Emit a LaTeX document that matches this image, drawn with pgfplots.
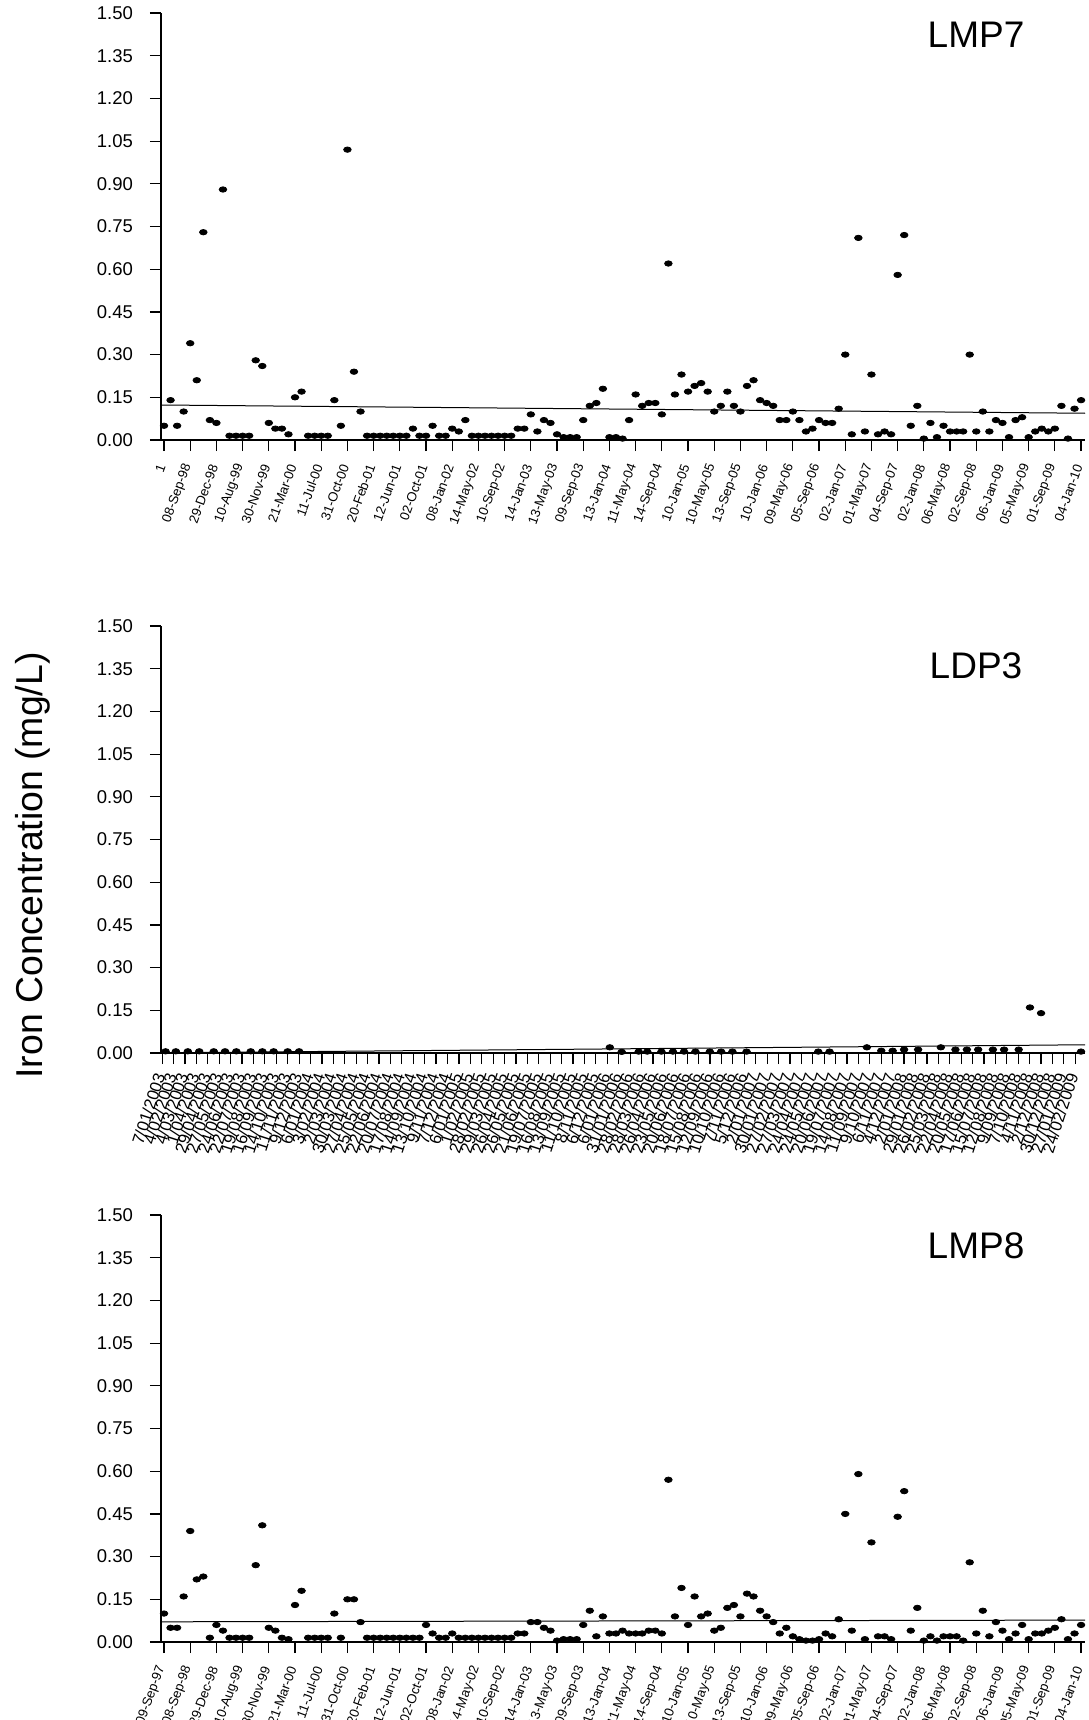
\documentclass[border=0pt]{standalone}
\usepackage{pgfplots}
\pgfplotsset{compat=1.18}
\usepackage{fontspec}
\setmainfont{Liberation Sans}
\pgfplotsset{
  panel/.style={
    scale only axis, width=462pt, height=213.5pt,
    axis x line=bottom, axis y line=left,
    axis line style={-, line width=0.6pt},
    every outer x axis line/.append style={-},
    every outer y axis line/.append style={-},
    ymin=0, ymax=1.5,
    ytick={0,0.15,0.3,0.45,0.6,0.75,0.9,1.05,1.2,1.35,1.5},
    scaled y ticks=false,
    yticklabel style={/pgf/number format/fixed, /pgf/number format/fixed zerofill,
      /pgf/number format/precision=2, /pgf/number format/assume math mode=true,
      font=\fontsize{9.25}{10}\selectfont, anchor=east, xshift=-5pt},
    tick align=outside, major tick length=5.5pt,
    tick style={line width=0.6pt, black},
    clip=false,
  },
  dots/.style={only marks, mark=*, mark size=1.35pt,
    mark options={xscale=1.4, fill=black, draw=black}},
  reg/.style={black, line width=0.5pt, no marks},
}
\begin{document}
\begin{tikzpicture}
\useasboundingbox (0,0) rectangle (544pt,-860pt);
% ---------------- LMP7
\begin{axis}[panel, at={(80.5pt,-220pt)}, anchor=south west,
  xmin=-0.46, xmax=140.6,
  xtick={0,4,...,140},
  xticklabels={1,08-Sep-98,29-Dec-98,10-Aug-99,30-Nov-99,21-Mar-00,11-Jul-00,31-Oct-00,20-Feb-01,12-Jun-01,02-Oct-01,08-Jan-02,14-May-02,10-Sep-02,14-Jan-03,13-May-03,09-Sep-03,13-Jan-04,11-May-04,14-Sep-04,10-Jan-05,10-May-05,13-Sep-05,10-Jan-06,09-May-06,05-Sep-06,02-Jan-07,01-May-07,04-Sep-07,02-Jan-08,06-May-08,02-Sep-08,06-Jan-09,05-May-09,01-Sep-09,04-Jan-10},
  xticklabel style={anchor=east, yshift=-3.5pt, rotate=70, font=\fontsize{6.6}{7.5}\selectfont},
]
\addplot[dots] coordinates {
(0,0.05)(1,0.14)(2,0.05)(3,0.10)(4,0.34)(5,0.21)(6,0.73)(7,0.07)(8,0.06)(9,0.88)
(10,0.015)(11,0.015)(12,0.015)(13,0.015)(14,0.28)(15,0.26)(16,0.06)(17,0.04)(18,0.04)(19,0.02)
(20,0.15)(21,0.17)(22,0.015)(23,0.015)(24,0.015)(25,0.015)(26,0.14)(27,0.05)(28,1.02)(29,0.24)
(30,0.10)(31,0.015)(32,0.015)(33,0.015)(34,0.015)(35,0.015)(36,0.015)(37,0.015)(38,0.04)(39,0.015)
(40,0.015)(41,0.05)(42,0.015)(43,0.015)(44,0.04)(45,0.03)(46,0.07)(47,0.015)(48,0.015)(49,0.015)
(50,0.015)(51,0.015)(52,0.015)(53,0.015)(54,0.04)(55,0.04)(56,0.09)(57,0.03)(58,0.07)(59,0.06)
(60,0.02)(61,0.01)(62,0.01)(63,0.01)(64,0.07)(65,0.12)(66,0.13)(67,0.18)(68,0.01)(69,0.01)
(70,0.005)(71,0.07)(72,0.16)(73,0.12)(74,0.13)(75,0.13)(76,0.09)(77,0.62)(78,0.16)(79,0.23)
(80,0.17)(81,0.19)(82,0.20)(83,0.17)(84,0.10)(85,0.12)(86,0.17)(87,0.12)(88,0.10)(89,0.19)
(90,0.21)(91,0.14)(92,0.13)(93,0.12)(94,0.07)(95,0.07)(96,0.10)(97,0.07)(98,0.03)(99,0.04)
(100,0.07)(101,0.06)(102,0.06)(103,0.11)(104,0.30)(105,0.02)(106,0.71)(107,0.03)(108,0.23)(109,0.02)
(110,0.03)(111,0.02)(112,0.58)(113,0.72)(114,0.05)(115,0.12)(116,0.005)(117,0.06)(118,0.01)(119,0.05)
(120,0.03)(121,0.03)(122,0.03)(123,0.30)(124,0.03)(125,0.10)(126,0.03)(127,0.07)(128,0.06)(129,0.01)
(130,0.07)(131,0.08)(132,0.01)(133,0.03)(134,0.04)(135,0.03)(136,0.04)(137,0.12)(138,0.005)(139,0.11)
(140,0.14)
};
\addplot[reg] coordinates {(-0.46,0.123)(140.6,0.094)};
\end{axis}
% ---------------- LDP3
\begin{axis}[panel, at={(80.5pt,-526.5pt)}, anchor=south west,
  xmin=-0.1, xmax=80.85,
  xtick={0,1,...,80},
  xticklabels={7/01/2003,4/02/2003,4/03/2003,1/04/2003,29/04/2003,27/05/2003,24/06/2003,22/07/2003,19/08/2003,16/09/2003,14/10/2003,11/11/2003,9/12/2003,6/01/2004,3/02/2004,2/03/2004,30/03/2004,27/04/2004,25/05/2004,22/06/2004,20/07/2004,17/08/2004,14/09/2004,13/10/2004,9/11/2004,7/12/2004,6/01/2005,1/02/2005,28/02/2005,29/03/2005,26/04/2005,26/05/2005,21/06/2005,19/07/2005,16/08/2005,13/09/2005,11/10/2005,8/11/2005,6/12/2005,6/01/2006,31/01/2006,28/02/2006,28/03/2006,26/04/2006,23/05/2006,20/06/2006,18/07/2006,15/08/2006,12/09/2006,10/10/2006,7/11/2006,5/12/2006,2/01/2007,30/01/2007,27/02/2007,27/03/2007,24/04/2007,24/05/2007,20/06/2007,19/07/2007,14/08/2007,11/09/2007,9/10/2007,6/11/2007,4/12/2007,2/01/2008,29/01/2008,26/02/2008,25/03/2008,22/04/2008,20/05/2008,17/06/2008,15/07/2008,12/08/2008,9/09/2008,7/10/2008,4/11/2008,2/12/2008,30/12/2008,27/01/2009,24/02/2009},
  xticklabel style={anchor=east, yshift=-1.5pt, rotate=72, font=\fontsize{8.3}{9}\selectfont},
]
\addplot[dots] coordinates {
(0.3,0.006)(1.2,0.006)(2.25,0.006)(3.25,0.006)(4.52,0.006)(5.51,0.006)(6.5,0.006)(7.76,0.006)(8.78,0.006)(9.77,0.006)(11.0,0.006)(12.0,0.006)
(39.22,0.02)(40.26,0.004)(41.75,0.005)(42.5,0.005)(43.74,0.005)(44.75,0.005)(45.72,0.005)(46.72,0.005)(47.98,0.005)(48.97,0.005)(49.96,0.005)(51.2,0.005)
(57.48,0.005)(58.47,0.005)(61.74,0.02)(63.0,0.008)(64.0,0.008)(65.0,0.012)(66.23,0.012)(68.22,0.02)(69.5,0.012)(70.5,0.012)(71.49,0.012)(72.78,0.012)(73.76,0.012)(75.04,0.012)(76.03,0.16)(77.0,0.14)(80.5,0.005)
};
\addplot[reg] coordinates {(-0.1,0.0005)(80.85,0.029)};
\end{axis}
% ---------------- LMP8
\begin{axis}[panel, at={(80.5pt,-821pt)}, anchor=south west,
  xmin=-0.46, xmax=140.6,
  xtick={0,4,...,140},
  xticklabels={09-Sep-97,08-Sep-98,29-Dec-98,10-Aug-99,30-Nov-99,21-Mar-00,11-Jul-00,31-Oct-00,20-Feb-01,12-Jun-01,02-Oct-01,08-Jan-02,14-May-02,10-Sep-02,14-Jan-03,13-May-03,09-Sep-03,13-Jan-04,11-May-04,14-Sep-04,10-Jan-05,10-May-05,13-Sep-05,10-Jan-06,09-May-06,05-Sep-06,02-Jan-07,01-May-07,04-Sep-07,02-Jan-08,06-May-08,02-Sep-08,06-Jan-09,05-May-09,01-Sep-09,04-Jan-10},
  xticklabel style={anchor=east, yshift=-3.5pt, rotate=70, font=\fontsize{6.6}{7.5}\selectfont},
]
\addplot[dots] coordinates {
(0,0.10)(1,0.05)(2,0.05)(3,0.16)(4,0.39)(5,0.22)(6,0.23)(7,0.015)(8,0.06)(9,0.04)
(10,0.015)(11,0.015)(12,0.015)(13,0.015)(14,0.27)(15,0.41)(16,0.05)(17,0.04)(18,0.015)(19,0.01)
(20,0.13)(21,0.18)(22,0.015)(23,0.015)(24,0.015)(25,0.015)(26,0.10)(27,0.015)(28,0.15)(29,0.15)
(30,0.07)(31,0.015)(32,0.015)(33,0.015)(34,0.015)(35,0.015)(36,0.015)(37,0.015)(38,0.015)(39,0.015)
(40,0.06)(41,0.03)(42,0.015)(43,0.015)(44,0.03)(45,0.015)(46,0.015)(47,0.015)(48,0.015)(49,0.015)
(50,0.015)(51,0.015)(52,0.015)(53,0.015)(54,0.03)(55,0.03)(56,0.07)(57,0.07)(58,0.05)(59,0.04)
(60,0.005)(61,0.01)(62,0.01)(63,0.01)(64,0.06)(65,0.11)(66,0.02)(67,0.09)(68,0.03)(69,0.03)
(70,0.04)(71,0.03)(72,0.03)(73,0.03)(74,0.04)(75,0.04)(76,0.03)(77,0.57)(78,0.09)(79,0.19)
(80,0.06)(81,0.16)(82,0.09)(83,0.10)(84,0.04)(85,0.05)(86,0.12)(87,0.13)(88,0.09)(89,0.17)
(90,0.16)(91,0.11)(92,0.09)(93,0.07)(94,0.03)(95,0.05)(96,0.02)(97,0.01)(98,0.005)(99,0.005)
(100,0.01)(101,0.03)(102,0.02)(103,0.08)(104,0.45)(105,0.04)(106,0.59)(107,0.01)(108,0.35)(109,0.02)
(110,0.02)(111,0.01)(112,0.44)(113,0.53)(114,0.04)(115,0.12)(116,0.005)(117,0.02)(118,0.005)(119,0.02)
(120,0.02)(121,0.02)(122,0.005)(123,0.28)(124,0.03)(125,0.11)(126,0.02)(127,0.07)(128,0.04)(129,0.01)
(130,0.03)(131,0.06)(132,0.01)(133,0.03)(134,0.03)(135,0.04)(136,0.05)(137,0.08)(138,0.01)(139,0.03)
(140,0.06)
};
\addplot[reg] coordinates {(-0.46,0.071)(140.6,0.077)};
\end{axis}
% titles and common label
\node[font=\fontsize{18.5}{20}\selectfont] at (488pt,-17.5pt) {LMP7};
\node[font=\fontsize{18.5}{20}\selectfont] at (488pt,-333pt) {LDP3};
\node[font=\fontsize{18.5}{20}\selectfont] at (488pt,-623pt) {LMP8};
\node[font=\fontsize{18.7}{21}\selectfont, rotate=90] at (16.5pt,-432.7pt) {Iron Concentration (mg/L)};
\end{tikzpicture}
\end{document}
